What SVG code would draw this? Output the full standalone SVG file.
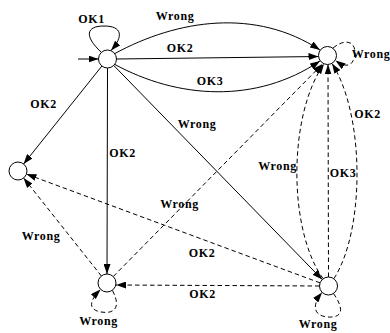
<svg xmlns="http://www.w3.org/2000/svg" width="390" height="333" viewBox="0 0 390 333">
  <style>
    .node { fill: #fff; stroke: #000; stroke-width: 1; }
    .edge { fill: none; stroke: #000; stroke-width: 1; marker-end: url(#arrow); }
    .dash { stroke-dasharray: 4.5 3; }
    .lbl { font-family: "Liberation Serif", "DejaVu Serif", serif; font-weight: bold; font-size: 12px; letter-spacing: 0.6px; fill: #000; text-anchor: middle; }
  </style>
  <defs>
    <marker id="arrow" markerUnits="userSpaceOnUse" viewBox="0 0 10 7" markerWidth="10" markerHeight="7" refX="10" refY="3.5" orient="auto">
      <path d="M0,0 L10,3.5 L0,7 z" fill="#000" stroke="none"/>
    </marker>
  </defs>

  <g id="edges">
    <!-- start arrow -->
    <path class="edge" d="M78,59 L98.5,59"/>
    <!-- s0 self loop -->
    <path class="edge" d="M101,52 C84,36 86,26 104,26 C122,26 124,36 111,50.5"/>
    <!-- s0 -> s1 -->
    <path class="edge" d="M114,54 C178,19 256,8 320,50"/>
    <path class="edge" d="M116.5,59 L318.5,56.5"/>
    <path class="edge" d="M114,64 C178,99 256,104 320,61"/>
    <!-- s1 self loop -->
    <path class="edge dash" d="M333,48 C348,36 358,44 354,58 C352,66 346,68 335.5,60.5"/>
    <!-- s0 -> s2, s3, s4 -->
    <path class="edge" d="M101.9,66 L23.6,164"/>
    <path class="edge" d="M107.5,68 L107,274"/>
    <path class="edge" d="M113.8,65.5 L322.2,279.5"/>
    <!-- s3 -> s1, s2 -->
    <path class="edge dash" d="M113.3,276.5 L322.5,64"/>
    <path class="edge dash" d="M101.4,276 L23.6,178"/>
    <!-- s3 self loop -->
    <path class="edge dash" d="M112.5,290.5 C122,309 113,314 101,312 C89,310 88,302 100.5,289.5"/>
    <!-- s4 -> s1 -->
    <path class="edge dash" d="M323,278.5 C288,230 288,115 324,64"/>
    <path class="edge dash" d="M328.5,277 L328,64.5"/>
    <path class="edge dash" d="M334,278.5 C365,230 365,115 332,63.5"/>
    <!-- s4 -> s2, s3 -->
    <path class="edge dash" d="M320.1,282.9 L26.4,174.1"/>
    <path class="edge dash" d="M319.5,286 L116,285"/>
    <!-- s4 self loop -->
    <path class="edge dash" d="M333.5,293.5 C345,310 342,318 328,317 C314,316 311,306 322,292.5"/>
  </g>

  <g id="labels">
    <text class="lbl" x="91.5" y="22.5">OK1</text>
    <text class="lbl" x="175" y="19.5">Wrong</text>
    <text class="lbl" x="180" y="52">OK2</text>
    <text class="lbl" x="210" y="85">OK3</text>
    <text class="lbl" x="371" y="58">Wrong</text>
    <text class="lbl" x="43.5" y="108">OK2</text>
    <text class="lbl" x="122.5" y="157">OK2</text>
    <text class="lbl" x="197" y="128">Wrong</text>
    <text class="lbl" x="179.5" y="208">Wrong</text>
    <text class="lbl" x="202" y="257">OK2</text>
    <text class="lbl" x="202.5" y="298">OK2</text>
    <text class="lbl" x="41" y="240">Wrong</text>
    <text class="lbl" x="277.5" y="170">Wrong</text>
    <text class="lbl" x="343" y="177">OK3</text>
    <text class="lbl" x="367.5" y="118">OK2</text>
    <text class="lbl" x="98.5" y="325">Wrong</text>
    <text class="lbl" x="318" y="328">Wrong</text>
  </g>

  <g id="s0"><circle class="node" cx="107.5" cy="59" r="9"/></g>
  <g id="s1"><circle class="node" cx="327.5" cy="55.5" r="9"/></g>
  <g id="s2"><circle class="node" cx="18" cy="171" r="9"/></g>
  <g id="s3"><circle class="node" cx="107" cy="283" r="9"/></g>
  <g id="s4"><circle class="node" cx="328.5" cy="286" r="9"/></g>
</svg>
